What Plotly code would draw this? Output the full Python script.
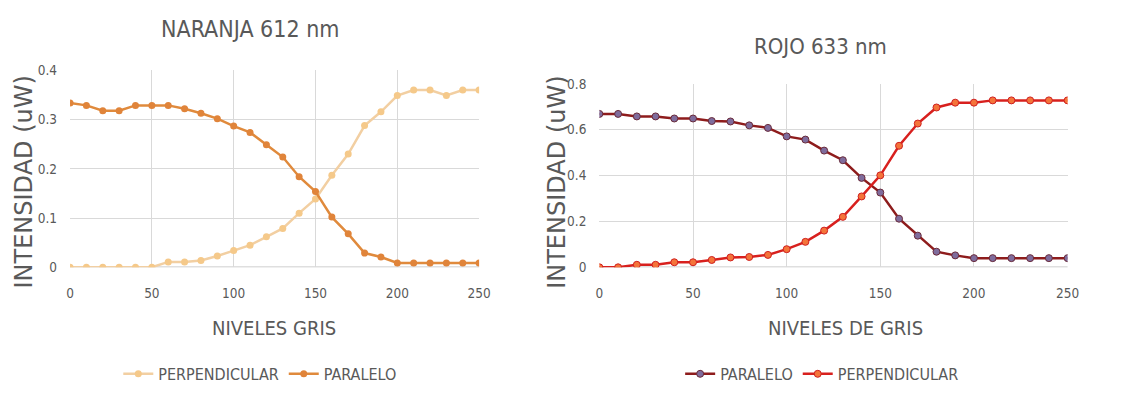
import plotly.graph_objects as go

# Gray levels (x) shared by both panels
niveles = [0, 10, 20, 30, 40, 50, 60, 70, 80, 90, 100, 110, 120, 130, 140, 150,
           160, 170, 180, 190, 200, 210, 220, 230, 240, 250]

# NARANJA 612 nm
naranja_perpendicular = [0.0, 0.0, 0.0, 0.0, 0.0, 0.0, 0.011, 0.011, 0.014, 0.023,
                         0.034, 0.045, 0.062, 0.079, 0.110, 0.139, 0.187, 0.230,
                         0.288, 0.316, 0.349, 0.360, 0.360, 0.349, 0.360, 0.360]
naranja_paralelo = [0.334, 0.329, 0.318, 0.318, 0.329, 0.329, 0.329, 0.322, 0.313,
                    0.302, 0.287, 0.274, 0.249, 0.224, 0.184, 0.154, 0.102, 0.068,
                    0.029, 0.021, 0.009, 0.009, 0.009, 0.009, 0.009, 0.009]

# ROJO 633 nm
rojo_paralelo = [0.669, 0.669, 0.658, 0.658, 0.649, 0.649, 0.638, 0.636, 0.619,
                 0.608, 0.571, 0.557, 0.509, 0.467, 0.390, 0.326, 0.212, 0.138,
                 0.068, 0.052, 0.040, 0.040, 0.040, 0.040, 0.040, 0.040]
rojo_perpendicular = [0.0, 0.0, 0.011, 0.011, 0.022, 0.022, 0.032, 0.043, 0.045,
                      0.054, 0.079, 0.111, 0.160, 0.220, 0.309, 0.401, 0.530, 0.627,
                      0.697, 0.718, 0.718, 0.728, 0.728, 0.728, 0.728, 0.728]

x_ticks = [0, 50, 100, 150, 200, 250]

W, H = 1121, 404
TXT = "#595959"
GRID = "#d9d9d9"
NARROW = "DejaVu Sans Condensed, Liberation Sans Narrow, sans-serif"
WIDE = "DejaVu Sans, Verdana, sans-serif"

fig = go.Figure()

fig.add_trace(go.Scatter(
    x=niveles, y=naranja_perpendicular, name="PERPENDICULAR", mode="lines+markers",
    line=dict(color="#f2cfa2", width=2.5),
    marker=dict(color="#f5c98a", size=7, symbol="circle"),
    xaxis="x", yaxis="y", legend="legend"))
fig.add_trace(go.Scatter(
    x=niveles, y=naranja_paralelo, name="PARALELO", mode="lines+markers",
    line=dict(color="#e08a3c", width=2.5),
    marker=dict(color="#e0843a", size=7, symbol="circle"),
    xaxis="x", yaxis="y", legend="legend"))

fig.add_trace(go.Scatter(
    x=niveles, y=rojo_paralelo, name="PARALELO", mode="lines+markers",
    line=dict(color="#8e1c1c", width=2.5),
    marker=dict(color="#7f6c9c", size=7, symbol="circle",
                line=dict(color="#6a2a3a", width=1)),
    xaxis="x2", yaxis="y2", legend="legend2"))
fig.add_trace(go.Scatter(
    x=niveles, y=rojo_perpendicular, name="PERPENDICULAR", mode="lines+markers",
    line=dict(color="#d8201e", width=2.5),
    marker=dict(color="#f4743a", size=7, symbol="circle",
                line=dict(color="#d02020", width=1)),
    xaxis="x2", yaxis="y2", legend="legend2"))

bottom = 1 - 270 / H
axis_common = dict(showgrid=True, gridcolor=GRID, gridwidth=1, zeroline=False,
                   ticks="", tickfont=dict(family=NARROW, size=13.5, color=TXT),
                   showline=False, fixedrange=True)

fig.update_layout(
    width=W, height=H,
    margin=dict(l=0, r=0, t=0, b=0),
    paper_bgcolor="white", plot_bgcolor="white",
    xaxis=dict(domain=[67 / W, 482 / W], range=[0, 250], tickvals=x_ticks,
               anchor="y", ticklabelstandoff=16, **axis_common),
    yaxis=dict(domain=[bottom, 1 - 65 / H], range=[0, 0.4], dtick=0.1,
               anchor="x", ticklabelstandoff=12, **axis_common),
    xaxis2=dict(domain=[604 / W, 1079 / W], range=[0, 250], tickvals=x_ticks,
                anchor="y2", ticklabelstandoff=16, **axis_common),
    yaxis2=dict(domain=[bottom, 1 - 79 / H], range=[0, 0.8], dtick=0.2,
                anchor="x2", ticklabelstandoff=12, **axis_common),
    legend=dict(orientation="h", x=260 / W, y=1 - 381 / H, xanchor="center",
                yanchor="middle", font=dict(family=NARROW, size=16, color=TXT),
                itemwidth=30, bgcolor="rgba(0,0,0,0)"),
    legend2=dict(orientation="h", x=830 / W, y=1 - 381 / H, xanchor="center",
                 yanchor="middle", font=dict(family=NARROW, size=16, color=TXT),
                 itemwidth=30, bgcolor="rgba(0,0,0,0)"),
    showlegend=True,
)

annotations = [
    dict(text="NARANJA 612 nm", x=250 / W, y=1 - 22 / H,
         font=dict(family=NARROW, size=23, color=TXT)),
    dict(text="ROJO 633 nm", x=828 / W, y=1 - 40 / H,
         font=dict(family=NARROW, size=22, color=TXT)),
    dict(text="NIVELES GRIS", x=274 / W, y=1 - 333 / H,
         font=dict(family=NARROW, size=20, color=TXT)),
    dict(text="NIVELES DE GRIS", x=854 / W, y=1 - 333 / H,
         font=dict(family=NARROW, size=20, color=TXT)),
    dict(text="INTENSIDAD (uW)", x=20 / W, y=1 - 181 / H, textangle=-90,
         font=dict(family=WIDE, size=24, color=TXT)),
    dict(text="INTENSIDAD (uW)", x=561 / W, y=1 - 181 / H, textangle=-90,
         font=dict(family=WIDE, size=24, color=TXT)),
]
for a in annotations:
    fig.add_annotation(xref="paper", yref="paper", showarrow=False,
                       xanchor="center", yanchor="middle", **a)

# Slightly darker baseline along y = 0 in both panels
for xa, ya in (("x", "y"), ("x2", "y2")):
    fig.add_shape(type="line", xref=f"{xa} domain", yref=ya, x0=0, x1=1, y0=0, y1=0,
                  line=dict(color="#bfbfbf", width=1.5), layer="below")

fig.write_html("out.html")
